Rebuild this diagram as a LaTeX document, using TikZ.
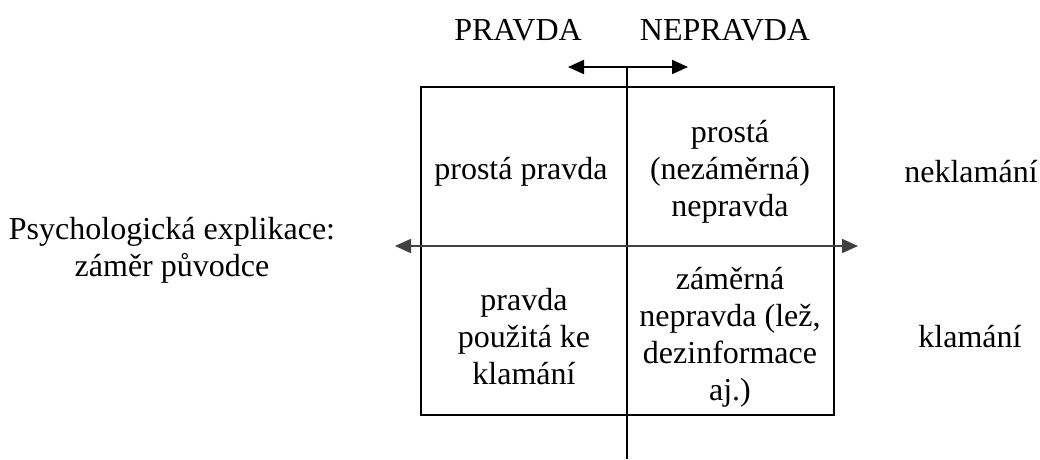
\documentclass[tikz,border=0pt]{standalone}
\usepackage{fontspec}
\setmainfont{Liberation Serif}
\usetikzlibrary{arrows.meta}
\begin{document}
\begin{tikzpicture}[x=1pt,y=-1pt,
  txt/.style={font=\fontsize{32}{37}\selectfont, align=center, inner sep=0pt},
  frame/.style={draw, line width=2.6pt, inner sep=0pt},
  axis/.style={line width=2.6pt},
  harrow/.style={line width=1.8pt, draw=black!75, {Triangle[length=16pt,width=14pt]}-{Triangle[length=16pt,width=14pt]}},
  varrow/.style={line width=2pt, {Triangle[length=16pt,width=14pt]}-{Triangle[length=16pt,width=14pt]}}]
\useasboundingbox (0,0) rectangle (1040,459);
\node[frame, minimum width=413pt, minimum height=328pt] (box) at (627.5,251) {};
% top labels
\node[txt] (pr) at (518,30) {PRAVDA};
\node[txt] (npr) at (725,30) {NEPRAVDA};
% cells
\node[txt] (c11) at (521,172) {prostá pravda};
\node[txt] (c12) at (730,172) {prostá\\(nezáměrná)\\nepravda};
\node[txt] (c21) at (524,337) {pravda\\použitá ke\\klamání};
\node[txt] (c22) at (730,337) {záměrná\\nepravda (lež,\\dezinformace\\aj.)};
% side labels
\node[txt] (nk) at (971,172) {neklamání};
\node[txt] (kl) at (970,337) {klamání};
\node[txt] (ps) at (172,250) {Psychologická explikace:\\záměr původce};
% axes
\coordinate (vt) at (627,68);
\coordinate (vb) at (627,459);
\coordinate (al) at (568,67);
\coordinate (ar) at (688,67);
\coordinate (hl) at (395,246);
\coordinate (hr) at (858,246);
\draw[axis] (vt) -- (vb);
\draw[varrow] (al) -- (ar);
\draw[harrow] (hl) -- (hr);
\end{tikzpicture}
\end{document}
